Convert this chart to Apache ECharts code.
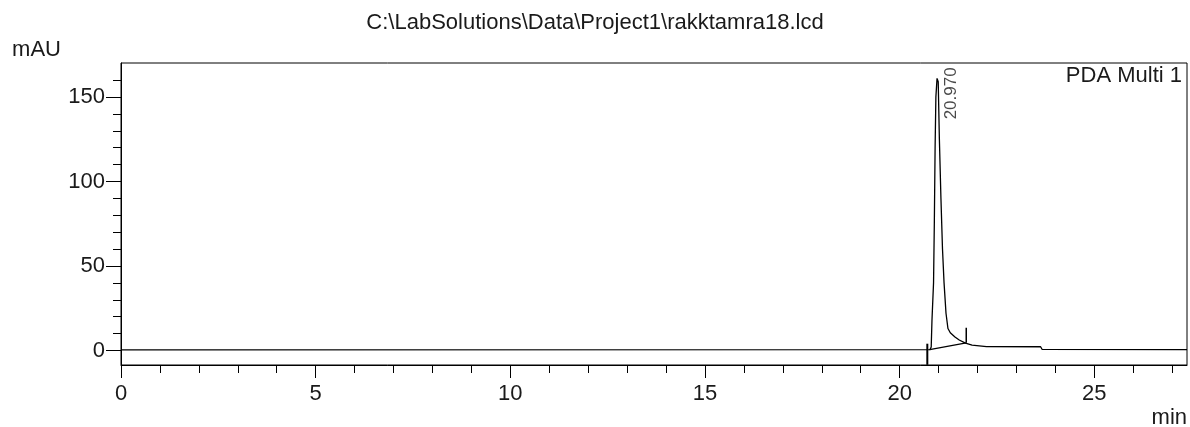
<!DOCTYPE html>
<html>
<head>
<meta charset="utf-8">
<script src="https://cdn.jsdelivr.net/npm/echarts@6/dist/echarts.min.js"></script>
<style>
html,body{margin:0;padding:0;background:#fff;}
#chart{width:1190px;height:427px;}
</style>
</head>
<body>
<div id="chart"></div>
<script>
// ---- data ----
const chartTitle = 'C:\\LabSolutions\\Data\\Project1\\rakktamra18.lcd';
const seriesName = 'PDA Multi 1';
const timeMin = [0, 20.78, 20.81, 20.83, 20.87, 20.89, 20.91, 20.93, 20.96, 20.99, 21.02, 21.06, 21.10, 21.14, 21.19, 21.24, 21.30, 21.42, 21.53, 21.69, 21.86, 22.23, 23.62, 23.66, 27.38];
const signalMAU = [0.3, 0.5, 2, 18, 40, 75, 120, 150, 161, 159, 125, 90, 60, 40, 22, 13, 10.5, 8, 6.2, 4.3, 3.2, 2.3, 2.2, 0.6, 0.5];
const peakTime = 20.97;
const peakHeight = 161;
const peakLabel = '20.970';
const baselineT = [20.77, 21.71];
const baselineV = [0.5, 4.5];
const startMarkT = [20.71, 20.71];
const startMarkV = [4, -8.5];
const endMarkT = [21.71, 21.71];
const endMarkV = [4.5, 13.5];
const xMajorTicks = [0, 5, 10, 15, 20, 25];
const xMinorTicks = [1,2,3,4,6,7,8,9,11,12,13,14,16,17,18,19,21,22,23,24,26,27];
const yMajorTicks = [0, 50, 100, 150];
const yMinorTicks = [10,20,30,40,60,70,80,90,110,120,130,140,160];
const xRange = [0, 27.38];
const yRange = [-8.6, 170.1];

const pairs = (a, b) => a.map((v, i) => [v, b[i]]);
const FONT = 'Liberation Sans, Arial, sans-serif';
const TXT = '#1a1a1a';

const chart = echarts.init(document.getElementById('chart'), null, {renderer: 'canvas'});
const axisCommonX = {type: 'value', min: xRange[0], max: xRange[1], position: 'bottom', splitLine: {show: false}};
const axisCommonY = {type: 'value', min: yRange[0], max: yRange[1], position: 'left', splitLine: {show: false}};

chart.setOption({
  animation: false,
  backgroundColor: '#fff',
  title: {
    text: chartTitle, left: 'center', top: 7,
    textStyle: {fontFamily: FONT, fontSize: 22, fontWeight: 'normal', color: TXT}
  },
  legend: {
    data: [{name: seriesName, icon: 'none'}],
    right: 8, top: 65, padding: 0, itemWidth: 0, itemHeight: 22, itemGap: 0,
    textStyle: {fontFamily: FONT, fontSize: 22, color: TXT, padding: [0,0,0,-5]},
    selectedMode: false
  },
  grid: {left: 121, right: 3, top: 63, bottom: 62, show: true, borderColor: '#000', borderWidth: 1,
         backgroundColor: 'transparent', outerBoundsMode: 'none', containLabel: false},
  xAxis: [
    Object.assign({}, axisCommonX, {
      name: 'min', nameLocation: 'end', nameGap: 0,
      nameTextStyle: {fontFamily: FONT, fontSize: 22, color: TXT, align: 'right', verticalAlign: 'top', padding: [42, 0, 0, 0]},
      axisLine: {show: true, onZero: false, lineStyle: {color: '#000', width: 1}},
      axisTick: {show: true, customValues: xMajorTicks, length: 13, lineStyle: {color: '#000', width: 1}},
      axisLabel: {show: true, customValues: xMajorTicks, margin: 18, fontFamily: FONT, fontSize: 22, color: TXT}
    }),
    Object.assign({}, axisCommonX, {
      axisLine: {show: false, onZero: false},
      axisTick: {show: true, customValues: xMinorTicks, length: 8, lineStyle: {color: '#000', width: 1}},
      axisLabel: {show: false}
    })
  ],
  yAxis: [
    Object.assign({}, axisCommonY, {
      name: 'mAU', nameLocation: 'end', nameGap: 13,
      nameTextStyle: {fontFamily: FONT, fontSize: 22, color: TXT, align: 'right', verticalAlign: 'middle', padding: [0, 60, 0, 0]},
      axisLine: {show: true, onZero: false, lineStyle: {color: '#000', width: 1}},
      axisTick: {show: true, customValues: yMajorTicks, length: 15, lineStyle: {color: '#000', width: 1}},
      axisLabel: {show: true, customValues: yMajorTicks, margin: 16, fontFamily: FONT, fontSize: 22, color: TXT}
    }),
    Object.assign({}, axisCommonY, {
      axisLine: {show: false, onZero: false},
      axisTick: {show: true, customValues: yMinorTicks, length: 8, lineStyle: {color: '#000', width: 1}},
      axisLabel: {show: false}
    })
  ],
  series: [
    {
      name: seriesName, type: 'line', data: pairs(timeMin, signalMAU),
      showSymbol: false, symbol: 'none', lineStyle: {color: '#000', width: 1.3}, itemStyle: {color: '#000'}
    },
    {
      name: 'baseline', type: 'line', data: pairs(baselineT, baselineV),
      showSymbol: false, symbol: 'none', lineStyle: {color: '#000', width: 1.3}
    },
    {
      name: 'peak start', type: 'line', data: pairs(startMarkT, startMarkV),
      showSymbol: false, symbol: 'none', lineStyle: {color: '#000', width: 2}
    },
    {
      name: 'peak end', type: 'line', data: pairs(endMarkT, endMarkV),
      showSymbol: false, symbol: 'none', lineStyle: {color: '#000', width: 1.5}
    },
    {
      name: 'peak label', type: 'scatter', data: [[peakTime, peakHeight]],
      symbol: 'circle', symbolSize: 0, itemStyle: {color: '#000'},
      label: {
        show: true, formatter: peakLabel, rotate: 90, position: [14, -11],
        align: 'right', verticalAlign: 'middle',
        fontFamily: FONT, fontSize: 17, color: TXT
      }
    }
  ]
});
</script>
</body>
</html>
